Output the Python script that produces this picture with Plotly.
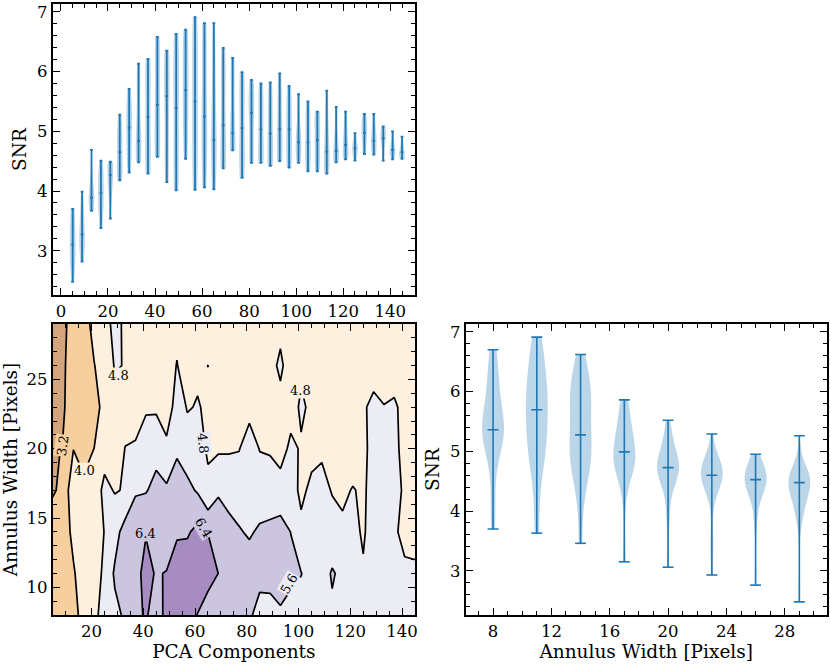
import numpy as np
import plotly.graph_objects as go

# PCA components (x of top panel / contour), annulus widths (y of contour)
pca_components = [5, 9, 13, 17, 21, 25, 29, 33, 37, 41, 45, 49, 53, 57, 61, 65, 69, 73,
                  77, 81, 85, 89, 93, 97, 101, 105, 109, 113, 117, 121, 125, 129, 133, 137, 141, 145]
annulus_widths = [8, 11, 14, 17, 20, 23, 26, 29]

# SNR for every PCA value, one list per annulus width
snr_w8 = [3.70, 3.99, 3.80, 4.22, 4.49, 5.28, 5.40, 5.72, 6.17, 6.50, 6.00, 6.63, 6.60, 6.70, 6.38, 5.86, 6.00, 6.23,
          5.99, 5.70, 5.36, 5.36, 5.49, 5.36, 5.30, 5.50, 5.33, 5.46, 5.30, 5.33, 4.97, 5.29, 5.29, 5.08, 5.00, 4.91]
snr_w11 = [3.63, 3.75, 3.90, 4.51, 4.45, 4.95, 5.71, 6.13, 6.21, 6.58, 6.35, 6.43, 6.70, 6.91, 6.81, 6.81, 6.395, 6.10,
           5.85, 5.86, 5.80, 5.82, 5.97, 5.76, 5.62, 5.30, 5.25, 5.68, 5.41, 5.20, 4.88, 5.20, 5.15, 5.00, 4.90, 4.85]
snr_w14 = [3.46, 3.50, 4.24, 4.30, 4.40, 4.82, 5.30, 5.93, 5.90, 6.37, 6.10, 6.00, 6.325, 6.30, 6.62, 6.38, 6.09, 5.95,
           5.64, 5.54, 5.675, 5.77, 5.91, 5.59, 4.97, 5.25, 5.20, 5.065, 4.90, 5.00, 4.71, 5.15, 5.00, 4.88, 4.65, 4.70]
snr_w17 = [3.15, 3.30, 4.69, 4.10, 4.36, 5.00, 4.75, 4.85, 5.55, 5.54, 5.86, 5.70, 5.86, 5.80, 5.52, 4.90, 5.50, 5.20,
           5.35, 5.30, 5.30, 5.20, 5.12, 5.10, 4.65, 4.95, 5.00, 4.76, 4.70, 4.83, 4.72, 5.00, 4.86, 4.98, 4.72, 4.66]
snr_w20 = [3.06, 3.25, 3.98, 3.84, 4.004, 4.48, 4.31, 4.82, 4.93, 5.34, 5.32, 5.08, 5.52, 5.20, 4.98, 4.74, 4.695, 4.74,
           4.76, 5.32, 4.762, 4.72, 4.50, 4.96, 4.733, 4.60, 4.70, 4.56, 4.64, 4.53, 4.70, 4.95, 4.82, 4.88, 4.70, 4.64]
snr_w23 = [2.93, 3.10, 3.67, 3.38, 3.54, 4.38, 4.50, 4.48, 4.29, 4.67, 4.69, 4.15, 5.29, 4.74, 4.85, 4.68, 4.60, 4.72,
           4.50, 4.47, 4.60, 4.60, 4.55, 4.53, 4.90, 4.68, 4.60, 4.50, 4.55, 4.71, 4.75, 4.90, 4.81, 4.86, 4.68, 4.60]
snr_w26 = [2.76, 3.00, 3.85, 3.70, 3.98, 4.25, 4.86, 4.77, 4.50, 4.57, 4.35, 4.30, 4.84, 4.30, 4.665, 4.805, 4.38, 4.70,
           4.22, 4.60, 4.50, 4.55, 4.95, 4.39, 4.70, 4.50, 4.45, 4.40, 4.50, 4.60, 4.55, 4.63, 4.65, 4.60, 4.60, 4.55]
snr_w29 = [2.48, 2.82, 3.88, 3.75, 4.18, 4.18, 5.26, 4.53, 4.60, 4.65, 4.15, 4.01, 4.54, 4.02, 4.06, 4.03, 4.50, 4.68,
           4.45, 4.55, 4.47, 4.42, 4.58, 4.50, 4.47, 4.33, 4.33, 4.29, 4.48, 4.60, 4.51, 4.62, 4.61, 4.51, 4.53, 4.54]

# contour levels and the ones that carry an inline label
contour_levels = [3.2, 4.0, 4.8, 5.6, 6.4]
label_levels = [3.2, 4.0, 4.8, 4.8, 4.8, 5.6, 6.4, 6.4]

snr_grid = np.array([snr_w8, snr_w11, snr_w14, snr_w17, snr_w20, snr_w23, snr_w26, snr_w29])

blue = '#1f77b4'
body = 'rgba(31,119,180,0.3)'
band_colors = ['#d4a57c', '#f7cf9e', '#fdf0df', '#ececf5', '#cbc5e0', '#a68cc1']
font = 'DejaVu Serif'

fig = go.Figure()


def add_violins(groups, positions, width, xa, ya, lw):
    xs, ys = [], []
    for pos, vals in zip(positions, groups):
        vals = np.asarray(vals, dtype=float)
        bw = vals.std(ddof=1) * len(vals) ** (-0.2)
        fig.add_trace(go.Violin(x=[pos] * len(vals), y=vals, xaxis=xa, yaxis=ya,
                                width=width, scalemode='width', spanmode='hard',
                                bandwidth=bw, points=False, fillcolor=body,
                                line=dict(color='rgba(31,119,180,0.0)', width=0),
                                hoverinfo='skip', showlegend=False))
        lo, hi, med = vals.min(), vals.max(), np.median(vals)
        c = width / 4
        xs += [pos, pos, None, pos - c, pos + c, None, pos - c, pos + c, None, pos - c, pos + c, None]
        ys += [lo, hi, None, lo, lo, None, hi, hi, None, med, med, None]
    fig.add_trace(go.Scatter(x=xs, y=ys, mode='lines', xaxis=xa, yaxis=ya,
                             line=dict(color=blue, width=lw), hoverinfo='skip', showlegend=False))


# top panel: distribution over annulus widths for each PCA value
add_violins(snr_grid.T, pca_components, 2.4, 'x', 'y', 1.8)
# right panel: distribution over PCA values for each annulus width
add_violins(snr_grid, annulus_widths, 1.5, 'x3', 'y3', 1.6)

step = contour_levels[1] - contour_levels[0]
fig.add_trace(go.Contour(
    x=pca_components, y=annulus_widths, z=snr_grid, xaxis='x2', yaxis='y2',
    contours=dict(start=contour_levels[0], end=contour_levels[-1] + 0.01, size=step,
                  coloring='fill', showlabels=False),
    colorscale=[[i / 5, c] for i, c in enumerate(band_colors)],
    line=dict(color='black', width=1.7, smoothing=0), showscale=False, hoverinfo='skip'))

# inline contour labels (placed where matplotlib's clabel put them)
label_spots = [(9, 20.2, -82, '#f7cf9e'), (17.4, 18.4, 0, '#fdf0df'), (30.4, 25.3, 0, '#fdf0df'),
               (100.6, 24.2, 0, '#fdf0df'), (63.2, 20.4, 84, '#ececf5'), (96.3, 10.3, -60, '#ececf5'),
               (41, 13.9, 0, '#cbc5e0'), (63.2, 14.3, 60, '#cbc5e0')]
for lev, (lx, ly, ang, bg) in zip(label_levels, label_spots):
    fig.add_annotation(x=lx, y=ly, xref='x2', yref='y2', text='%.1f' % lev, showarrow=False,
                       textangle=ang, bgcolor=bg, borderpad=0,
                       font=dict(family=font, size=13, color='black'))

tick_font = dict(family=font, size=16.5, color='black')
title_font = dict(family=font, size=18.5, color='black')


def axis(domain, rng, dtick, minor, anchor, title=None, standoff=6):
    a = dict(domain=domain, range=rng, dtick=dtick, tick0=0, anchor=anchor, showline=True,
             linecolor='black', linewidth=1.8, mirror='allticks', ticks='inside', ticklen=7,
             tickwidth=1.3, tickcolor='black', showgrid=False, zeroline=False, tickfont=tick_font,
             minor=dict(ticks='inside', ticklen=4, tickwidth=1, dtick=minor, tickcolor='black'),
             automargin=False)
    if title:
        a['title'] = dict(text=title, font=title_font, standoff=standoff)
    return a


W, H = 830, 664
fig.update_layout(
    width=W, height=H, margin=dict(l=0, r=0, t=0, b=0),
    paper_bgcolor='white', plot_bgcolor='white', violinmode='overlay',
    xaxis=axis([52.7 / W, 414.5 / W], [-3.5, 150.3], 20, 5, 'y'),
    yaxis=axis([1 - 295 / H, 1 - 4 / H], [2.26, 7.13], 1, 0.2, 'x', 'SNR', 6),
    xaxis2=axis([52.7 / W, 415 / W], [5, 145], 20, 5, 'y2', 'PCA Components', 0),
    yaxis2=axis([1 - 615 / H, 1 - 324 / H], [8, 29], 5, 1, 'x2', 'Annulus Width [Pixels]', 6),
    xaxis3=axis([465.7 / W, 826.7 / W], [6.125, 30.875], 4, 1, 'y3', 'Annulus Width [Pixels]', 0),
    yaxis3=axis([1 - 615 / H, 1 - 324 / H], [2.26, 7.13], 1, 0.2, 'x3', 'SNR', 6),
)

fig.write_html("out.html", config={'displayModeBar': False},
               post_script="document.body.style.margin='0';document.body.style.overflow='hidden';")
